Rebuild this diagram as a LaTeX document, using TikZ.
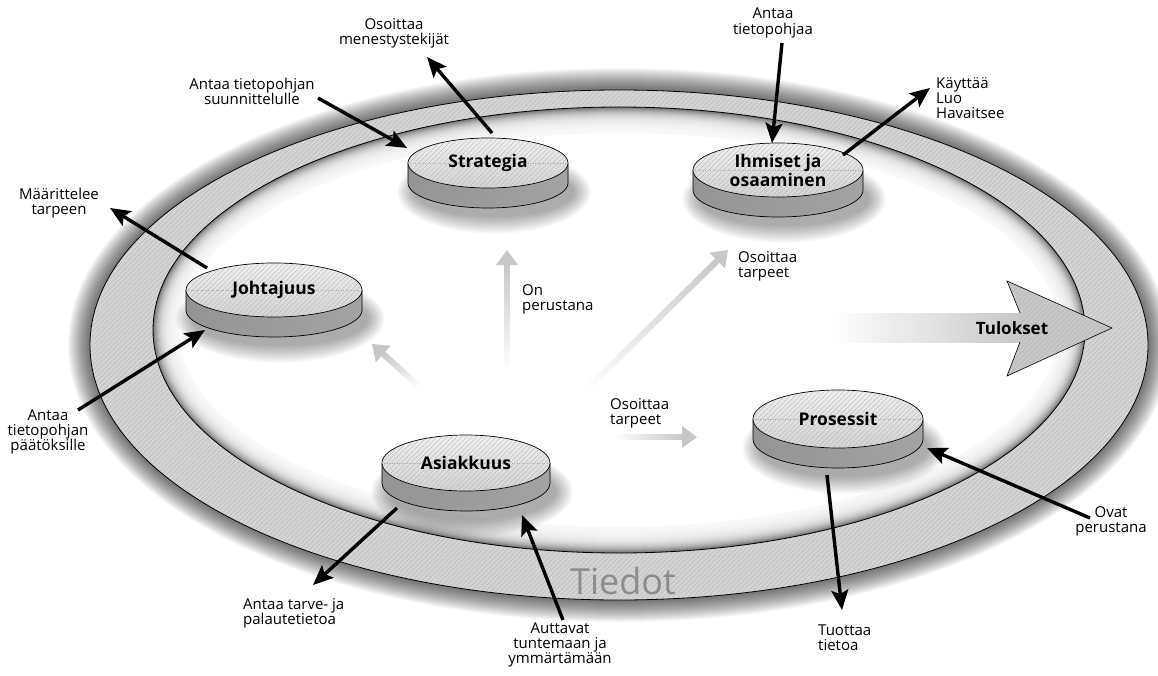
\documentclass[tikz,border=0pt]{standalone}
\usepackage{fontspec}
\setmainfont{Open Sans}
\usetikzlibrary{arrows.meta,calc,shapes.geometric,patterns.meta}

\tikzset{
  lbl/.style={font=\fontsize{15}{15.2}\selectfont, align=center, inner sep=0pt},
  lbll/.style={lbl, align=left, anchor=west},
  disctop/.style={ellipse, draw=black, line width=0.7pt, inner sep=0pt,
    top color=black!6, bottom color=black!17},
  disctext/.style={font=\bfseries\fontsize{17.5}{19}\selectfont, align=center, inner sep=0pt},
  bigarrow/.style={line width=3.4pt, -{Stealth[length=20pt,width=17pt,inset=4pt]}},
  hatch/.style={pattern={Lines[angle=45,distance=3.5pt,line width=0.35pt]}, pattern color=black!30},
}

% a flat cylinder: name, cx, cy, rx, ry, text
\newcommand\disc[6]{%
  \foreach \k in {0,...,12}
    \fill[black,opacity=0.027] (#2+6,#3+29) ellipse [x radius=#4+\k*1.4, y radius=#5+\k*1.4];
  \shade[left color=black!42, middle color=black!14, right color=black!36]
    (#2-#4,#3) -- (#2-#4,#3+20) arc[start angle=180,end angle=0,x radius=#4,y radius=#5] -- (#2+#4,#3) -- cycle;
  \draw[line width=0.7pt]
    (#2-#4,#3) -- (#2-#4,#3+20) arc[start angle=180,end angle=0,x radius=#4,y radius=#5] -- (#2+#4,#3);
  \node[disctop, minimum width=2*#4, minimum height=2*#5] (#1) at (#2,#3) {};
  \fill[hatch, fill opacity=0.25] (#1.center) ellipse [x radius=#4-0.5, y radius=#5-0.5];
  \draw[black!35, line width=0.4pt, dash pattern=on 1pt off 1.5pt] (#1.west) -- (#1.east);
  \node[disctext] (#1-text) at (#1.center) {#6};
}

% soft grey arrow fading out towards its tail
\newcommand\softarrow[2]{%
  \coordinate (sa-base) at ($(#2)!15pt!(#1)$);
  \foreach \i in {0,...,29}{%
    \pgfmathsetmacro\sa{\i/30}%
    \pgfmathsetmacro\sb{min((\i+1.5)/30,1)}%
    \pgfmathsetmacro\sg{\i*21/29}%
    \draw[line width=6pt, black!\sg] ($(#1)!\sa!(sa-base)$) -- ($(#1)!\sb!(sa-base)$);
  }%
  \fill[black!22] (#2) -- ($(sa-base)!11pt!90:(#2)$) -- ($(sa-base)!11pt!-90:(#2)$) -- cycle;
}

\begin{document}
\begin{tikzpicture}[x=1pt,y=-1pt]
\useasboundingbox (0,0) rectangle (1158,676);
\fill[white] (0,0) rectangle (1158,676);

% ---- the information ring ----
\foreach \k in {22,...,1}
  \fill[black,opacity=0.03] (619,345) ellipse [x radius=529+\k, y radius=255+\k];
\fill[black!17] (619,345) ellipse [x radius=529, y radius=255];
\fill[hatch, fill opacity=0.35] (619,345) ellipse [x radius=529, y radius=255];
\draw[line width=0.8pt] (619,345) ellipse [x radius=529, y radius=255];

\fill[black!55] (619,330) ellipse [x radius=466, y radius=223];
\foreach \k in {1,...,26}
  \fill[white,opacity=0.14] (619,330) ellipse [x radius=466-\k, y radius=223-\k];
\fill[white] (619,330) ellipse [x radius=440, y radius=197];
\draw[line width=0.8pt] (619,330) ellipse [x radius=466, y radius=223];

\node[font=\fontsize{36}{36}\selectfont, text=black!45, inner sep=0pt] (tiedot) at (623,581) {Tiedot};

% ---- soft arrows from the customer ----
\coordinate (s1t) at (507,372); \coordinate (s1h) at (507,250);
\coordinate (s2t) at (583,393); \coordinate (s2h) at (728,250);
\coordinate (s3t) at (420,387); \coordinate (s3h) at (372,344);
\coordinate (s4t) at (613,437); \coordinate (s4h) at (697,437);
\softarrow{s1t}{s1h}
\softarrow{s2t}{s2h}
\softarrow{s3t}{s3h}
\softarrow{s4t}{s4h}

\node[lbll] (f1) at (522,299) {On\\perustana};
\node[lbll] (f2) at (738,266) {Osoittaa\\tarpeet};
\node[lbll] (f3) at (610,413) {Osoittaa\\tarpeet};

% ---- results arrow ----
\shade[left color=white, right color=black!22] (830,313) rectangle (1021,342);
\fill[black!22] (1020,313) -- (1007,281) -- (1112,328) -- (1007,376) -- (1020,342) -- cycle;
\fill[hatch, fill opacity=0.3] (1020,313) -- (1007,281) -- (1112,328) -- (1007,376) -- (1020,342) -- cycle;
\draw[line width=0.6pt] (1020,313) -- (1007,281) -- (1112,328) -- (1007,376) -- (1020,342);
\node[font=\bfseries\fontsize{17}{19}\selectfont, inner sep=0pt] (tulokset) at (1012,328) {Tulokset};

% ---- the five areas ----
\disc{strat}{488}{163}{80}{25}{Strategia}
\disc{ihm}{778}{170}{85}{27}{Ihmiset ja\\osaaminen}
\disc{joht}{274}{290}{88}{27}{Johtajuus}
\disc{asiak}{466}{463}{84}{28}{Asiakkuus}
\disc{pros}{838}{419}{85}{29}{Prosessit}

% ---- labels ----
\node[lbl] (l1) at (394,33) {Osoittaa\\menestystekijät};
\node[lbl] (l2) at (252,91) {Antaa tietopohjan\\suunnittelulle};
\node[lbl] (l3) at (773,23) {Antaa\\tietopohjaa};
\node[lbll] (l4) at (936,98) {Käyttää\\Luo\\Havaitsee};
\node[lbl] (l5) at (59,203) {Määrittelee\\tarpeen};
\node[lbl] (l6) at (48,432) {Antaa\\tietopohjan\\päätöksille};
\node[lbll] (l7) at (243,613) {Antaa tarve- ja\\palautetietoa};
\node[lbl] (l8) at (560,645) {Auttavat\\tuntemaan ja\\ymmärtämään};
\node[lbll] (l9) at (818,638) {Tuottaa\\tietoa};
\node[lbl] (l10) at (1111,521) {Ovat\\perustana};

% ---- black arrows ----
\coordinate (a1s) at (492,133);  \coordinate (a1e) at (427,57);
\coordinate (a2s) at (318,98);   \coordinate (a2e) at (407,148);
\coordinate (a3s) at (782,43);   \coordinate (a3e) at (772,143);
\coordinate (a4s) at (843,155);  \coordinate (a4e) at (930,88);
\coordinate (a5s) at (207,268);  \coordinate (a5e) at (110,208);
\coordinate (a6s) at (78,410);   \coordinate (a6e) at (205,330);
\coordinate (a7s) at (397,508);  \coordinate (a7e) at (313,585);
\coordinate (a8s) at (563,620);  \coordinate (a8e) at (522,515);
\coordinate (a9s) at (827,475);  \coordinate (a9e) at (842,610);
\coordinate (a10s) at (1090,518); \coordinate (a10e) at (927,448);

\draw[bigarrow] (a1s) -- (a1e);
\draw[bigarrow] (a2s) -- (a2e);
\draw[bigarrow] (a3s) -- (a3e);
\draw[bigarrow] (a4s) -- (a4e);
\draw[bigarrow] (a5s) -- (a5e);
\draw[bigarrow] (a6s) -- (a6e);
\draw[bigarrow] (a7s) -- (a7e);
\draw[bigarrow] (a8s) -- (a8e);
\draw[bigarrow] (a9s) -- (a9e);
\draw[bigarrow] (a10s) -- (a10e);
\end{tikzpicture}
\end{document}
